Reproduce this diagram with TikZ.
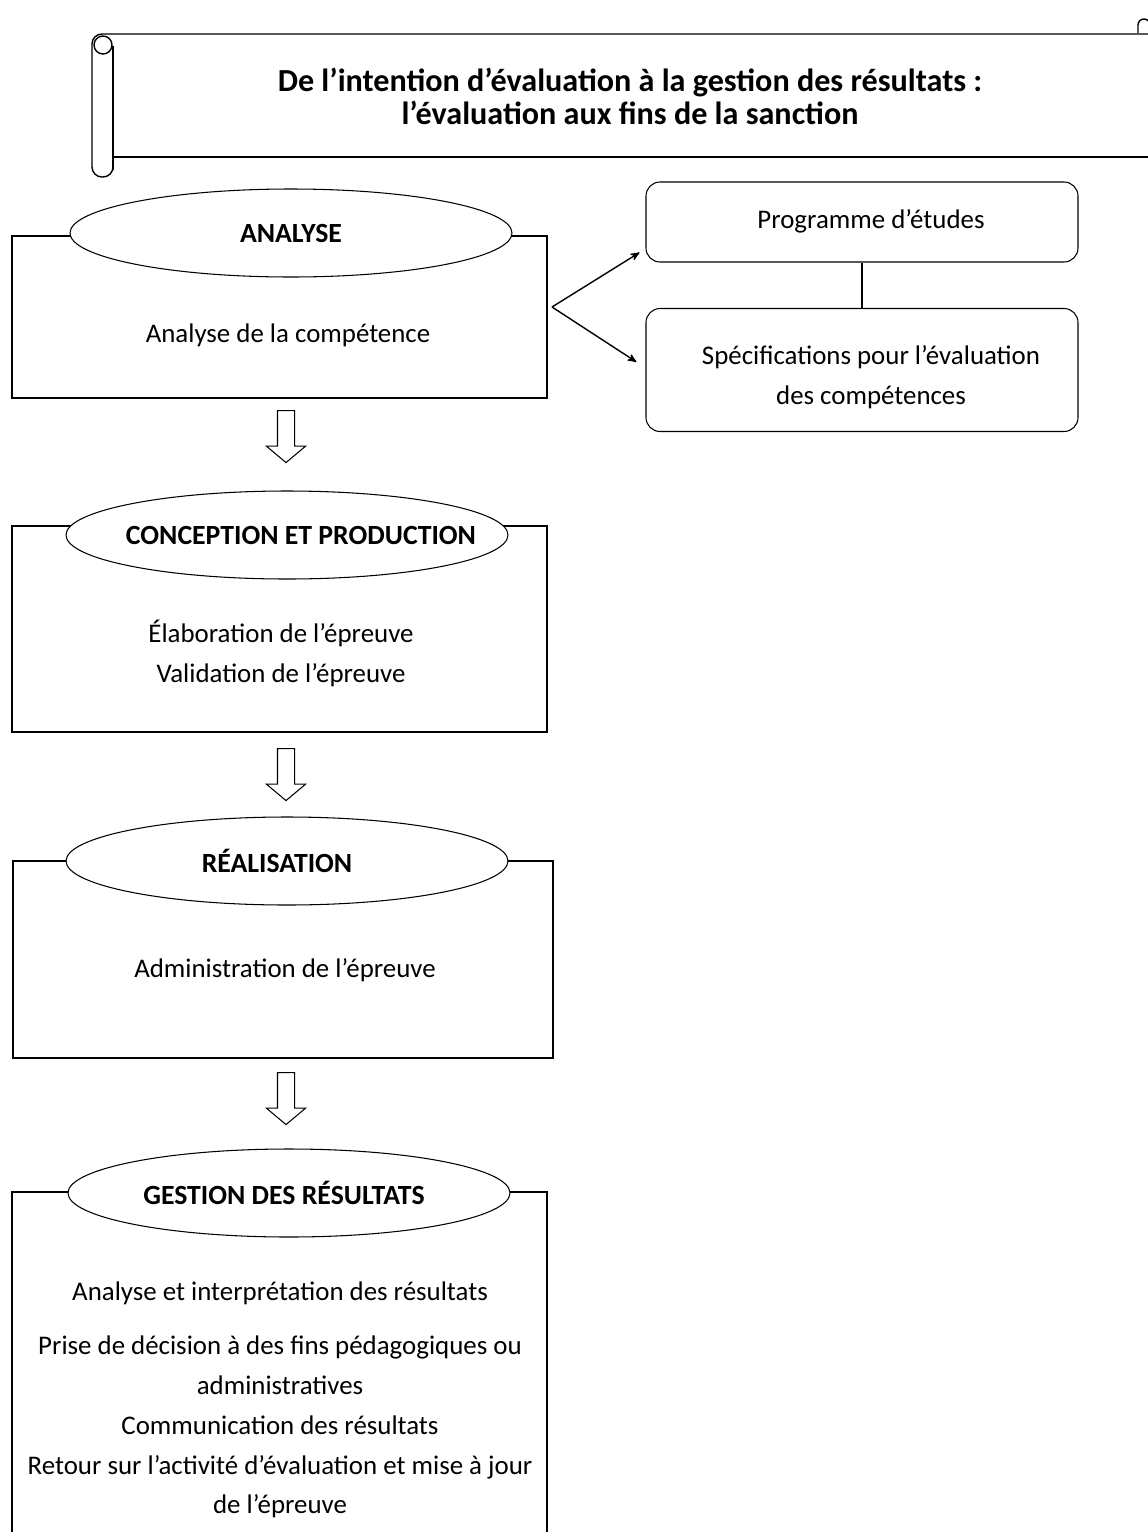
\documentclass[tikz,border=0pt]{standalone}
\usepackage{fontspec}
\setmainfont{Carlito}
\usetikzlibrary{arrows,shapes,fit,calc}
\newdimen\px \px=0.02cm
\tikzset{
	>=stealth',
	stagebox/.style={
		rectangle,
		draw=black, thick,
		inner sep=0pt},
	phase/.style={
		ellipse,
		draw=black, semithick,
		fill=white,
		minimum width=442\px,
		minimum height=88\px,
		inner sep=0pt},
	phasetxt/.style={
		inner sep=0pt,
		font=\fontsize{15.8}{20}\selectfont\bfseries},
	sidebox/.style={
		rectangle,
		rounded corners=14\px,
		draw=black, semithick,
		minimum width=432\px,
		inner sep=0pt},
	body/.style={
		align=center,
		inner sep=0pt,
		font=\fontsize{15.3}{22.7}\selectfont},
	hollow/.style={
		single arrow,
		draw=black, semithick,
		rotate=-90,
		minimum height=52\px,
		inner xsep=0pt, inner ysep=8\px,
		single arrow head extend=11\px,
		single arrow tip angle=100,
		single arrow head indent=0pt},
}
\begin{document}
\begin{tikzpicture}[x=0.02cm, y=-0.02cm]
	\useasboundingbox (0,0) rectangle (1148,1532);
	\clip (0,0) rectangle (1148,1532);

	% Scroll with the title
	\draw[thick, rounded corners=10\px] (113,160) -- (113,177) -- (92,177) -- (92,34) -- (1170,34);
	\draw[thick] (113,46) -- (113,170);
	\draw[thick] (103,45) circle (9\px);
	\draw[thick] (113,157) -- (1170,157);
	\draw[thick] (1138,33) -- (1138,25) arc (180:0:6\px);
	\node[body, font=\fontsize{18.3}{18.7}\selectfont\bfseries] (title) at (630,96)
		{De l’intention d’évaluation à la gestion des résultats :\\l’évaluation aux fins de la sanction};

	% The four stages
	\node[stagebox, fit={(12,236) (547,398)}] (box1) {};
	\node[stagebox, fit={(12,526) (547,732)}] (box2) {};
	\node[stagebox, fit={(13,861) (553,1058)}] (box3) {};
	\node[stagebox, fit={(12,1192) (547,1600)}] (box4) {};

	\node[phase] (ph1) at (291,233) {};
	\node[phase] (ph2) at (287,535) {};
	\node[phase] (ph3) at (287,861) {};
	\node[phase] (ph4) at (289,1193) {};
	\node[phasetxt] (ph1txt) at (291,233) {ANALYSE};
	\node[phasetxt] (ph2txt) at (301,535) {CONCEPTION ET PRODUCTION};
	\node[phasetxt] (ph3txt) at (277,861) {RÉALISATION};
	\node[phasetxt] (ph4txt) at (284,1193) {GESTION DES RÉSULTATS};

	\node[body] (txt1) at (288,335) {Analyse de la compétence};
	\node[body] (txt2) at (281,653) {Élaboration de l’épreuve\\Validation de l’épreuve};
	\node[body] (txt3) at (285,970) {Administration de l’épreuve};
	\node[body] (txt4) at (280,1400) {Analyse et interprétation des résultats\\[14\px]
		Prise de décision à des fins pédagogiques ou\\administratives\\
		Communication des résultats\\Retour sur l’activité d’évaluation et mise à jour\\de l’épreuve};

	% Hollow arrows between the stages
	\node[hollow] (a1) at (286,433) {};
	\node[hollow] (a2) at (286,771) {};
	\node[hollow] (a3) at (286,1095) {};

	% Documents used for the analysis
	\node[sidebox, minimum height=80\px] (prog) at (862,222) {};
	\node[body] (progtxt) at (871,221) {Programme d’études};
	\node[sidebox, minimum height=123\px] (spec) at (862,370) {};
	\node[body] (spectxt) at (871,377) {Spécifications pour l’évaluation\\des compétences};
	\draw[thick] (prog) -- (spec);

	\coordinate (fork) at (552,307);
	\draw[thick, ->] (fork) -- ($(prog.south west)+(-6,-10)$);
	\draw[thick, ->] (fork) -- ($(spec.west)+(-9,-8)$);
\end{tikzpicture}
\end{document}
